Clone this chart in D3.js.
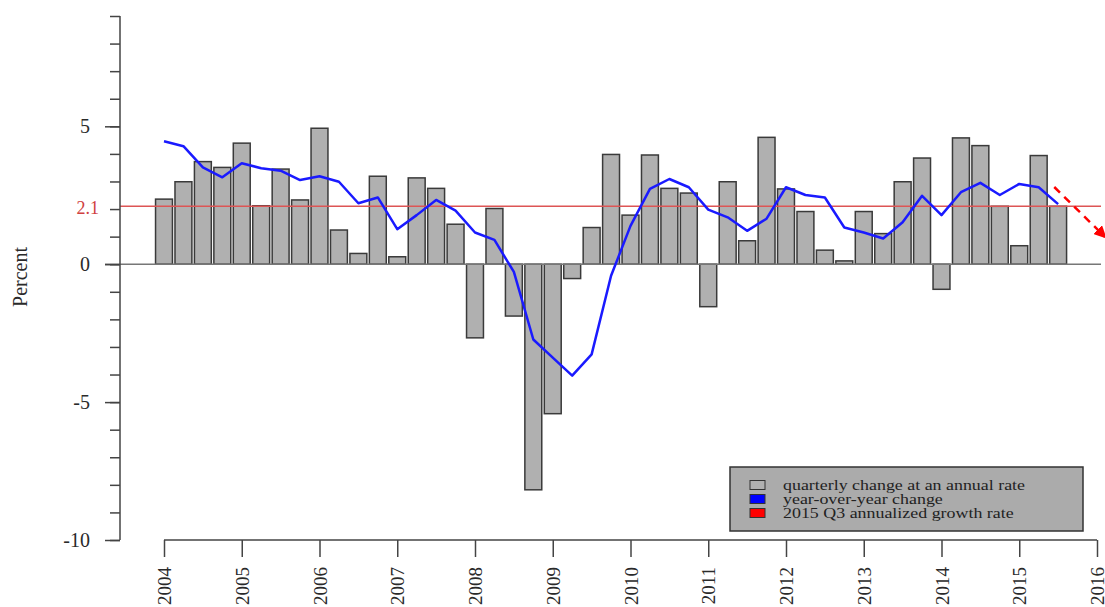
<!DOCTYPE html>
<html>
<head>
<meta charset="utf-8">
<script src="https://cdn.jsdelivr.net/npm/d3@7"></script>
<style>
  html, body { margin: 0; padding: 0; background: #fff; }
  svg { display: block; }
  text { font-family: "Liberation Serif", "DejaVu Serif", serif; }
</style>
</head>
<body>
<svg id="chart" width="1105" height="607"></svg>
<script>
// ---- data ----
const quarters = d3.range(47).map(i => 2004 + i * 0.25); // 2004Q1 .. 2015Q3
const quarterlyRate = [
  2.36, 2.99, 3.72, 3.51, 4.39, 2.12, 3.45, 2.33,
  4.93, 1.24, 0.39, 3.19, 0.27, 3.13, 2.75, 1.45,
  -2.67, 2.02, -1.88, -8.18, -5.42, -0.52, 1.33, 3.98,
  1.78, 3.96, 2.75, 2.58, -1.54, 2.99, 0.85, 4.60,
  2.73, 1.91, 0.51, 0.12, 1.91, 1.11, 2.99, 3.85,
  -0.91, 4.58, 4.30, 2.10, 0.67, 3.94, 2.10
];
const yoyChange = [
  4.46, 4.28, 3.51, 3.15, 3.66, 3.48, 3.39, 3.05,
  3.19, 2.99, 2.21, 2.42, 1.27, 1.78, 2.33, 1.94,
  1.15, 0.88, -0.28, -2.73, -3.39, -4.04, -3.27, -0.42,
  1.39, 2.73, 3.09, 2.79, 1.98, 1.70, 1.21, 1.65,
  2.79, 2.51, 2.42, 1.33, 1.15, 0.93, 1.52, 2.48,
  1.78, 2.61, 2.95, 2.51, 2.91, 2.79, 2.18
];
const q3Rate = 2.1;
const yearTicks = d3.range(2004, 2017);
const yMajorTicks = [-10, -5, 0, 5];
const yMinorTicks = d3.range(-10, 10);
const arrowFrom = [2015.45, 2.8];
const arrowTo = [2016.1, 1.0];
const legendItems = [
  { label: "quarterly change at an annual rate", color: "#b0b0b0" },
  { label: "year-over-year change", color: "#0000ff" },
  { label: "2015 Q3 annualized growth rate", color: "#ff0000" }
];

// ---- drawing ----
const svg = d3.select("#chart");
const x = d3.scaleLinear().domain([2004, 2016]).range([164, 1097]);
const y = d3.scaleLinear().domain([-10, 9]).range([540, 16]);
const axisColor = "#444";
const textColor = "#2a2a2a";

const defs = svg.append("defs");
defs.append("marker")
  .attr("id", "arrowhead")
  .attr("viewBox", "0 0 10 10")
  .attr("refX", 8).attr("refY", 5)
  .attr("markerWidth", 5).attr("markerHeight", 5)
  .attr("markerUnits", "strokeWidth")
  .attr("orient", "auto")
  .append("path").attr("d", "M0,0 L10,5 L0,10 z").attr("fill", "#ff0000");

// bars
const barW = (x(2004.25) - x(2004)) * 0.87;
svg.append("g").selectAll("rect")
  .data(quarters.map((q, i) => ({ q, v: quarterlyRate[i] })))
  .join("rect")
  .attr("x", d => x(d.q) - barW / 2)
  .attr("width", barW)
  .attr("y", d => y(Math.max(0, d.v)))
  .attr("height", d => Math.abs(y(d.v) - y(0)))
  .attr("fill", "#b0b0b0")
  .attr("stroke", "#3a3a3a")
  .attr("stroke-width", 1.5);

// zero line
svg.append("line")
  .attr("x1", 105).attr("x2", 1101)
  .attr("y1", y(0)).attr("y2", y(0))
  .attr("stroke", "#777").attr("stroke-width", 1.5);

// red reference line
svg.append("line")
  .attr("x1", 120).attr("x2", 1101)
  .attr("y1", y(q3Rate)).attr("y2", y(q3Rate))
  .attr("stroke", "#dd5555").attr("stroke-width", 1.5);

// yoy line
svg.append("path")
  .datum(quarters.map((q, i) => [q, yoyChange[i]]))
  .attr("d", d3.line().x(d => x(d[0])).y(d => y(d[1])))
  .attr("fill", "none")
  .attr("stroke", "#1a1aff")
  .attr("stroke-width", 2.5)
  .attr("stroke-linejoin", "round");

// arrow
svg.append("line")
  .attr("x1", x(arrowFrom[0])).attr("y1", y(arrowFrom[1]))
  .attr("x2", x(arrowTo[0])).attr("y2", y(arrowTo[1]))
  .attr("stroke", "#ff0000").attr("stroke-width", 2.5)
  .attr("stroke-dasharray", "8,6")
  .attr("marker-end", "url(#arrowhead)");

// y axis
const yAxisMinor = d3.axisLeft(y).tickValues(yMinorTicks).tickSize(10).tickFormat("");
const gyMinor = svg.append("g").attr("transform", "translate(120,0)").call(yAxisMinor);
gyMinor.select(".domain").attr("d", `M0,${y(9)}V${y(-10)}`);
const yAxisMajor = d3.axisLeft(y).tickValues(yMajorTicks).tickSize(15).tickPadding(15).tickFormat(d => String(d));
const gyMajor = svg.append("g").attr("transform", "translate(120,0)").call(yAxisMajor);
gyMajor.select(".domain").remove();
[gyMinor, gyMajor].forEach(g => {
  g.selectAll("line").attr("stroke", axisColor).attr("stroke-width", 1.5);
  g.selectAll("path").attr("stroke", axisColor).attr("stroke-width", 1.5);
});
gyMajor.selectAll("text")
  .style("font-family", "'Liberation Serif', serif")
  .style("font-size", "20px").style("fill", textColor);

// 2.1 label
svg.append("text")
  .attr("x", 99).attr("y", y(2.05)).attr("dy", "0.35em")
  .attr("text-anchor", "end")
  .style("font-size", "18px")
  .style("fill", "#d04040")
  .text(q3Rate.toFixed(1));

// x axis
const xAxis = d3.axisBottom(x).tickValues(yearTicks).tickSize(17).tickPadding(10).tickFormat(d => String(d));
const gx = svg.append("g").attr("transform", `translate(0,${y(-10)})`).call(xAxis);
gx.select(".domain").attr("d", `M${x(2004)},0H${x(2016)}`).attr("stroke", axisColor).attr("stroke-width", 1.5);
gx.selectAll("line").attr("stroke", axisColor).attr("stroke-width", 1.5);
gx.selectAll("text")
  .style("font-family", "'Liberation Serif', serif")
  .style("font-size", "19px").style("fill", textColor)
  .attr("text-anchor", "end")
  .attr("transform", "rotate(-90)")
  .attr("x", -27).attr("y", 0).attr("dy", "0.35em");

// y label
svg.append("text")
  .attr("transform", "translate(20,277) rotate(-90)")
  .attr("text-anchor", "middle").attr("dy", "0.35em")
  .style("font-size", "20px").style("fill", textColor)
  .text("Percent");

// legend
const lg = svg.append("g");
lg.append("rect")
  .attr("x", 730).attr("y", 467).attr("width", 353).attr("height", 64)
  .attr("fill", "#ababab").attr("stroke", "#333").attr("stroke-width", 1.5);
legendItems.forEach((it, i) => {
  const cy = 485 + i * 14;
  lg.append("rect")
    .attr("x", 750).attr("y", cy - 4.5).attr("width", 15).attr("height", 9)
    .attr("fill", it.color).attr("stroke", "#333").attr("stroke-width", 1);
  lg.append("text")
    .attr("transform", `translate(783,${cy}) scale(1.28,1)`)
    .attr("dy", "0.35em")
    .style("font-size", "14px").style("fill", "#222")
    .text(it.label);
});
</script>
</body>
</html>
